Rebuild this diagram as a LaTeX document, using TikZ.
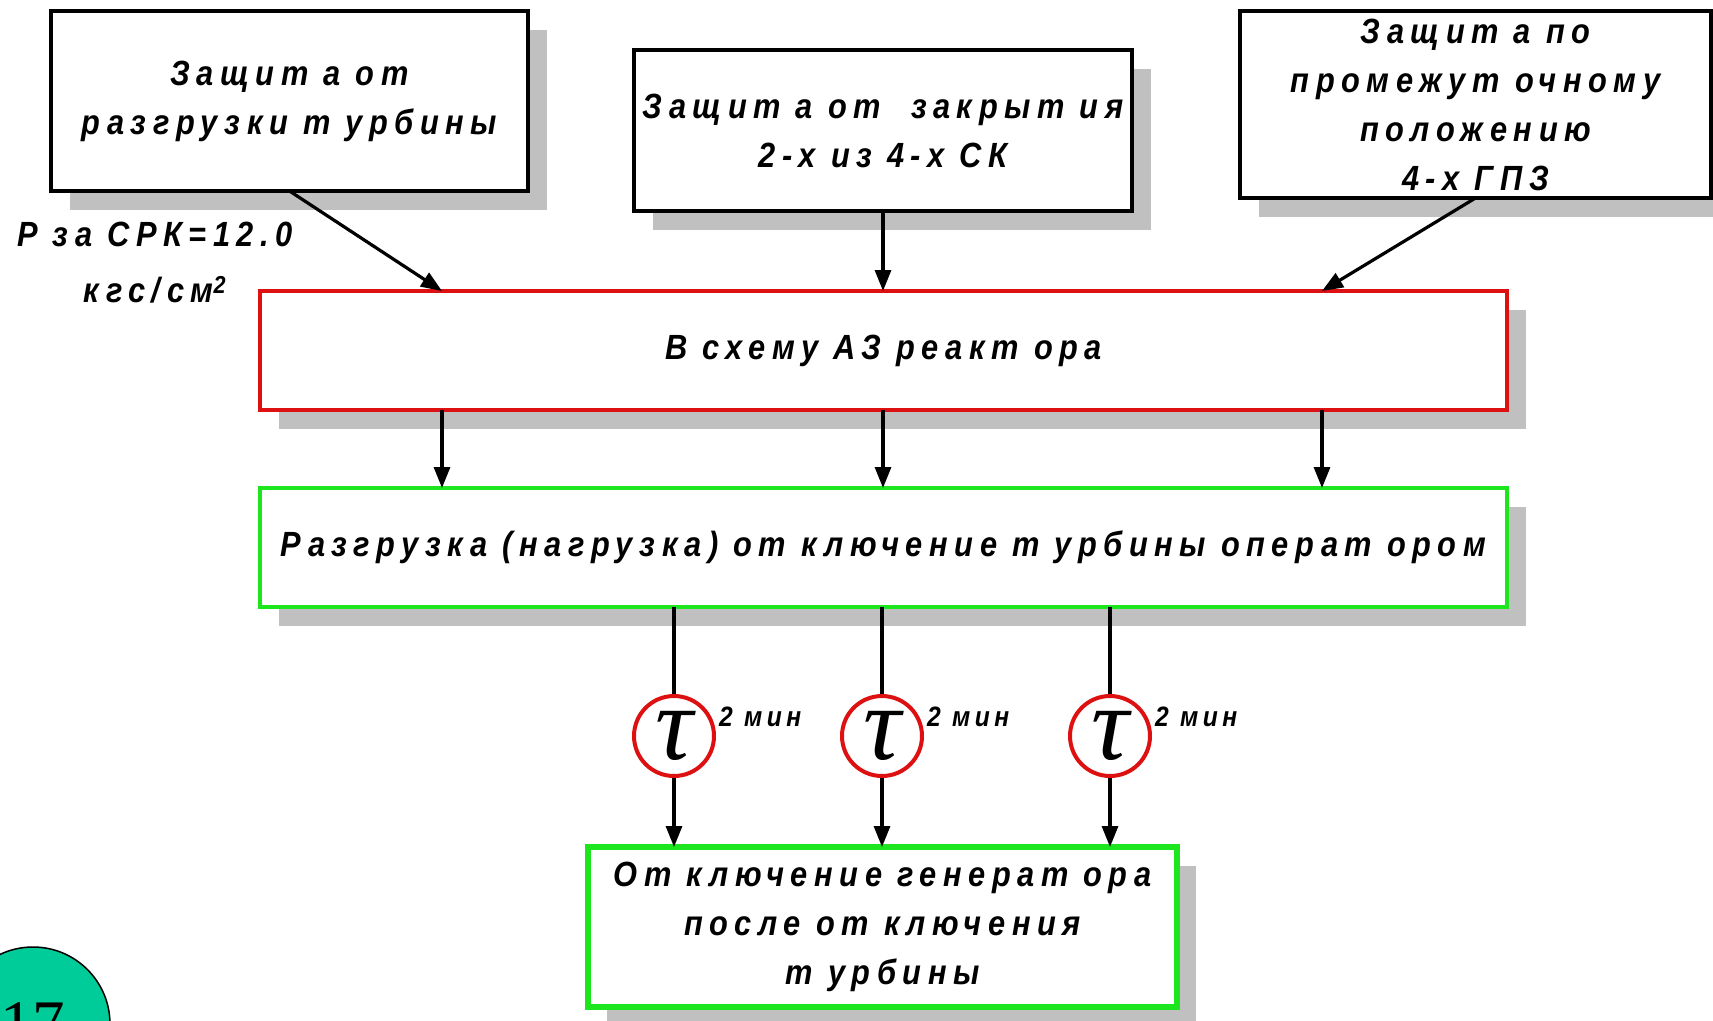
\documentclass[tikz,border=0pt]{standalone}
\usepackage{fontspec}
\usetikzlibrary{arrows.meta,shadows,calc}
% condensed, tracked bold italic sans for all labels
\newfontfamily\lab[FakeStretch=0.88,LetterSpace=18.7]{Liberation Sans}
\newfontfamily\labsm[FakeStretch=0.88,LetterSpace=16]{Liberation Sans}
\newfontfamily\serifface{Liberation Serif}
\definecolor{shadowc}{RGB}{192,192,192}
\definecolor{alarmred}{RGB}{221,17,17}
\definecolor{okgreen}{RGB}{30,230,30}
\definecolor{badge}{RGB}{0,204,153}

\tikzset{
  labelfont/.style={font=\lab\bfseries\itshape\fontsize{35}{49}\selectfont},
  box/.style={draw=black, line width=4pt, fill=white, inner sep=0pt, outer sep=0pt,
    align=center, labelfont,
    drop shadow={shadow xshift=19pt, shadow yshift=-19pt, fill=shadowc, opacity=1}},
  redbox/.style={box, draw=alarmred, line width=3.5pt},
  greenbox/.style={box, draw=okgreen},
  boxtext/.style={align=center, labelfont, inner sep=0pt},
  timer/.style={circle, draw=alarmred, line width=4pt, fill=white, minimum size=80pt,
    inner sep=0pt, font=\serifface\itshape\fontsize{105}{105}\selectfont},
  flow/.style={line width=3.2pt, -{Triangle[length=21pt,width=16pt]}},
  wire/.style={line width=3.2pt},
  note/.style={font=\labsm\bfseries\itshape\fontsize{28}{30}\selectfont, inner sep=0pt},
}

\begin{document}
\begin{tikzpicture}[x=1pt,y=-1pt]
\useasboundingbox (0,0) rectangle (1713,1020);

% input protections
\node[box, minimum width=477pt, minimum height=180pt] (b1) at (289.5,101)
  {Защит а от\\разгрузки т урбины};
\node[box, minimum width=498pt, minimum height=161pt] (b2) at (883,130.5)
  {Защит а от\ \ закрыт ия\\2-х из 4-х СК};
\node[box, minimum width=471pt, minimum height=187pt] (b3) at (1475.5,104.5)
  {Защит а по\\промежут очному\\положению\\4-х ГПЗ};

\node[boxtext, font=\lab\bfseries\itshape\fontsize{35}{56}\selectfont] (pnote) at (155,263)
  {Р за СРК=12.0\\кгс/см\textsuperscript{2}};

% reactor trip and turbine unload
\node[redbox, minimum width=1247pt, minimum height=119pt] (red) at (883.5,350.5)
  {В схему АЗ реакт ора};
\node[greenbox, minimum width=1247pt, minimum height=119pt] (grn) at (883.5,547.5)
  {Разгрузка (нагрузка) от ключение т урбины операт ором};

% generator disconnection
\node[greenbox, line width=6pt, minimum width=589pt, minimum height=160pt] (gen) at (882.5,927)
  {От ключение генерат ора\\после от ключения\\т урбины};

% time delays
\node[timer] (t1) at (674,736) {τ};
\node[timer] (t2) at (882,736) {τ};
\node[timer] (t3) at (1110,736) {τ};
\node[note, anchor=base west] (m1) at ([shift={(3,-10)}]t1.east) {2 мин};
\node[note, anchor=base west] (m2) at ([shift={(3,-10)}]t2.east) {2 мин};
\node[note, anchor=base west] (m3) at ([shift={(3,-10)}]t3.east) {2 мин};

% arrow columns
\coordinate (c1) at (442,0);
\coordinate (c3) at (1322,0);

\draw[flow] (b1.south) -- (red.north -| c1);
\draw[flow] (b2.south) -- (red.north -| b2.south);
\draw[flow] (b3.south) -- (red.north -| c3);

\draw[flow] (red.south -| c1) -- (grn.north -| c1);
\draw[flow] (red.south -| b2.south) -- (grn.north -| b2.south);
\draw[flow] (red.south -| c3) -- (grn.north -| c3);

\foreach \t in {t1,t2,t3} {
  \draw[wire] (grn.south -| \t.north) -- (\t.north);
  \draw[flow] (\t.south) -- (gen.north -| \t.south);
}

% page badge
\node[circle, fill=badge, draw=black, line width=1.5pt, minimum size=154pt, inner sep=0pt,
  font=\serifface\fontsize{65}{65}\selectfont] (page) at (33,1024) {17};
\end{tikzpicture}
\end{document}
